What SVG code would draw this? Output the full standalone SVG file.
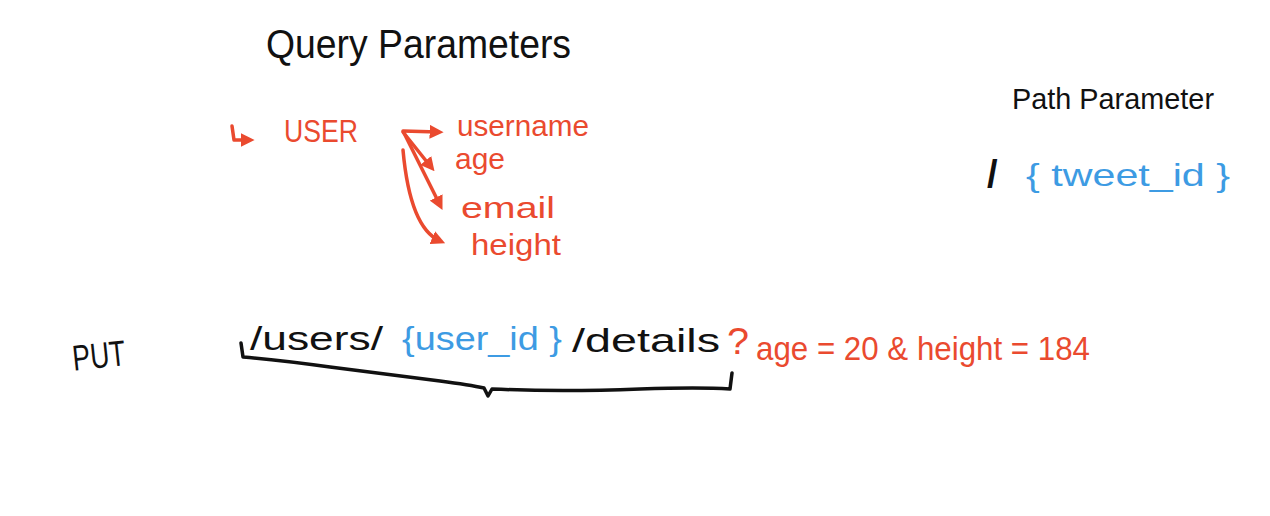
<svg xmlns="http://www.w3.org/2000/svg" width="1270" height="516" viewBox="0 0 1270 516">
<style>
text{font-family:"Liberation Sans",Arial,sans-serif}
.k{fill:#111}
.r{fill:#ea4a2f}
.b{fill:#3d9be3}
.rl{fill:none;stroke:#ea4a2f;stroke-width:3.5;stroke-linecap:round;stroke-linejoin:round}
.kl{fill:none;stroke:#111;stroke-width:3.5;stroke-linecap:round;stroke-linejoin:round}
</style>
<defs>
<marker id="ah" viewBox="0 0 10 10" refX="6" refY="5" markerWidth="4" markerHeight="4" orient="auto" markerUnits="strokeWidth">
<path d="M0,0 L10,5 L0,10 z" fill="#ea4a2f"/>
</marker>
</defs>
<rect width="1270" height="516" fill="#ffffff"/>
<g id="title-query">
<text class="k" x="266" y="58" font-size="40" textLength="305" lengthAdjust="spacingAndGlyphs">Query Parameters</text>
</g>
<g id="title-path">
<text class="k" x="1012" y="109" font-size="30" textLength="202" lengthAdjust="spacingAndGlyphs">Path Parameter</text>
</g>
<g id="path-example">
<text class="k" x="987" y="187" font-size="38" font-weight="bold">/</text>
<text class="b" x="1026" y="186" font-size="32" textLength="204" lengthAdjust="spacingAndGlyphs">{ tweet_id }</text>
</g>
<g id="user">
<text class="r" x="284" y="142" font-size="32" textLength="74" lengthAdjust="spacingAndGlyphs">USER</text>
</g>
<g id="username"><text class="r" x="457" y="136" font-size="30" textLength="132" lengthAdjust="spacingAndGlyphs">username</text></g>
<g id="age"><text class="r" x="455" y="169" font-size="30" textLength="50" lengthAdjust="spacingAndGlyphs">age</text></g>
<g id="email"><text class="r" x="461" y="218" font-size="30" textLength="94" lengthAdjust="spacingAndGlyphs">email</text></g>
<g id="height"><text class="r" x="471" y="255" font-size="30" textLength="90" lengthAdjust="spacingAndGlyphs">height</text></g>
<g id="put">
<text class="k" x="72" y="368" font-size="36" textLength="53" lengthAdjust="spacingAndGlyphs" transform="rotate(-6 98 352)">PUT</text>
</g>
<g id="url">
<text class="k" x="250" y="350" font-size="34" textLength="133" lengthAdjust="spacingAndGlyphs">/users/</text>
<text class="b" x="402" y="350" font-size="34" textLength="160" lengthAdjust="spacingAndGlyphs">{user_id }</text>
<text class="k" x="572" y="352" font-size="34" textLength="148" lengthAdjust="spacingAndGlyphs">/details</text>
<text class="r" x="727" y="354" font-size="36" textLength="22" lengthAdjust="spacingAndGlyphs">?</text>
<text class="r" x="756" y="360" font-size="34" textLength="334" lengthAdjust="spacingAndGlyphs">age = 20 &amp; height = 184</text>
</g>
<g id="connectors">
<path class="rl" d="M232,126 L234,140 L249,140" marker-end="url(#ah)"/>
<path class="rl" d="M403,131 L438,132" marker-end="url(#ah)"/>
<path class="rl" d="M403,132 L431,167" marker-end="url(#ah)"/>
<path class="rl" d="M404,133 L440,205" marker-end="url(#ah)"/>
<path class="rl" d="M403,150 Q410,228 440,241" marker-end="url(#ah)"/>
<path class="kl" d="M241,343 L243,357 Q280,360 330,367 Q400,376 440,381 Q470,385 484,388 L488,396 L492,389 Q560,392 640,389 Q700,387 730,389 L732,373"/>
</g>
</svg>
